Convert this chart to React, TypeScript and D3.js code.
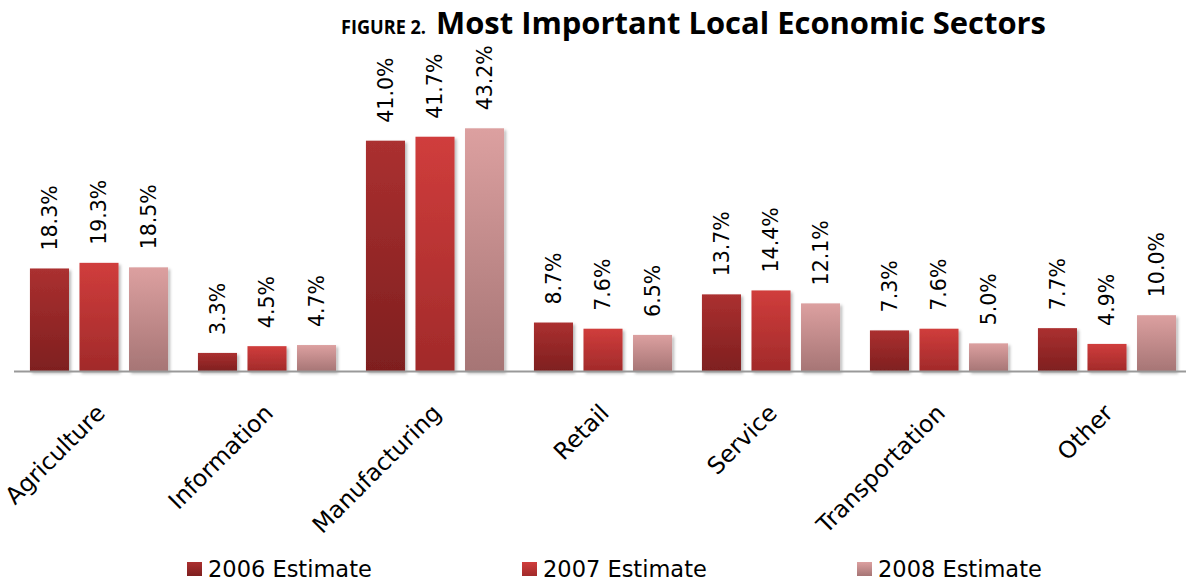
import { useRef, useEffect } from 'react';
import * as d3 from 'd3';

const categories = ['Agriculture', 'Information', 'Manufacturing', 'Retail', 'Service', 'Transportation', 'Other'];
const seriesNames = ['2006 Estimate', '2007 Estimate', '2008 Estimate'];
const values2006 = [18.3, 3.3, 41.0, 8.7, 13.7, 7.3, 7.7];
const values2007 = [19.3, 4.5, 41.7, 7.6, 14.4, 7.6, 4.9];
const values2008 = [18.5, 4.7, 43.2, 6.5, 12.1, 5.0, 10.0];
const seriesValues = [values2006, values2007, values2008];

// top / bottom colours of each series gradient
const gradTop = ['#ab3030', '#d03d3c', '#dca0a0'];
const gradBottom = ['#7e1f1f', '#a12a2a', '#a67575'];

const App = () => {
    const svgRef = useRef<SVGSVGElement | null>(null);

    useEffect(() => {
        const svgElement = svgRef.current;
        if (!svgElement) return;

        const width = 1186;
        const height = 582;
        const baseline = 371.5;

        const svg = d3.select(svgElement)
            .attr('width', width)
            .attr('height', height);

        svg.selectAll('*').remove();

        const defs = svg.append('defs');
        seriesNames.forEach((_, i) => {
            const g = defs.append('linearGradient')
                .attr('id', `grad${i}`)
                .attr('x1', 0).attr('y1', 0)
                .attr('x2', 0).attr('y2', 1);
            g.append('stop').attr('offset', '0%').attr('stop-color', gradTop[i]);
            g.append('stop').attr('offset', '100%').attr('stop-color', gradBottom[i]);
        });
        const shadow = defs.append('filter')
            .attr('id', 'shadow')
            .attr('x', '-20%').attr('y', '-10%')
            .attr('width', '150%').attr('height', '130%');
        shadow.append('feDropShadow')
            .attr('dx', 2).attr('dy', 2)
            .attr('stdDeviation', 1.8)
            .attr('flood-color', '#000')
            .attr('flood-opacity', 0.28);

        const x0 = d3.scaleBand<string>()
            .domain(categories)
            .range([15, 1191])
            .paddingInner(0.178)
            .paddingOuter(0.089);

        const x1 = d3.scaleBand<string>()
            .domain(seriesNames)
            .range([0, x0.bandwidth()])
            .paddingInner(0.212);

        const y = d3.scaleLinear()
            .domain([0, 50])
            .range([baseline, baseline - 281.5]);

        // title
        const title = svg.append('text')
            .attr('y', 34)
            .style('font-family', '"Open Sans", "Liberation Sans", sans-serif')
            .style('font-weight', 'bold')
            .style('fill', '#000');
        title.append('tspan')
            .attr('x', 341)
            .attr('textLength', 85)
            .attr('lengthAdjust', 'spacingAndGlyphs')
            .style('font-size', '20px')
            .text('FIGURE 2.');
        title.append('tspan')
            .attr('x', 436)
            .attr('textLength', 610)
            .attr('lengthAdjust', 'spacingAndGlyphs')
            .style('font-size', '30.5px')
            .text('Most Important Local Economic Sectors');

        // bars
        const groups = svg.append('g')
            .selectAll('g')
            .data(categories)
            .join('g')
            .attr('transform', d => `translate(${x0(d)},0)`);

        groups.selectAll('rect')
            .data((_, ci) => seriesNames.map((s, si) => ({ s, si, v: seriesValues[si][ci] })))
            .join('rect')
            .attr('x', d => x1(d.s)!)
            .attr('y', d => y(d.v))
            .attr('width', x1.bandwidth())
            .attr('height', d => baseline - y(d.v))
            .attr('fill', d => `url(#grad${d.si})`)
            .attr('filter', 'url(#shadow)');

        // value labels
        groups.selectAll('text')
            .data((_, ci) => seriesNames.map((s, si) => ({ s, si, v: seriesValues[si][ci] })))
            .join('text')
            .attr('transform', d => `translate(${x1(d.s)! + x1.bandwidth() / 2},${y(d.v) - 18}) rotate(-90)`)
            .attr('dy', '0.36em')
            .style('font-family', '"DejaVu Sans", Verdana, sans-serif')
            .style('font-size', '20.5px')
            .style('fill', '#000')
            .text(d => `${d.v.toFixed(1)}%`);

        // baseline
        svg.append('line')
            .attr('x1', 14)
            .attr('x2', 1186)
            .attr('y1', baseline)
            .attr('y2', baseline)
            .attr('stroke', '#999')
            .attr('stroke-width', 2);

        // category labels
        svg.append('g')
            .selectAll('text')
            .data(categories)
            .join('text')
            .attr('transform', d => `translate(${x0(d)! + x0.bandwidth() / 2 - 5},${402}) rotate(-45)`)
            .attr('dy', '0.75em')
            .attr('text-anchor', 'end')
            .style('font-family', '"DejaVu Sans", Verdana, sans-serif')
            .style('font-size', '23.5px')
            .style('fill', '#000')
            .text(d => d);

        // legend
        const legendX = d3.scalePoint<string>()
            .domain(seriesNames)
            .range([187, 857]);

        const legend = svg.append('g')
            .selectAll('g')
            .data(seriesNames)
            .join('g')
            .attr('transform', d => `translate(${legendX(d)},0)`);

        legend.append('rect')
            .attr('x', 0)
            .attr('y', 562)
            .attr('width', 15)
            .attr('height', 14)
            .attr('fill', (_, i) => `url(#grad${i})`);

        legend.append('text')
            .attr('x', 21)
            .attr('y', 576.5)
            .style('font-family', '"DejaVu Sans", Verdana, sans-serif')
            .style('font-size', '22.5px')
            .style('fill', '#000')
            .text(d => d);
    }, []);

    return (
        <svg ref={svgRef} style={{ position: 'absolute', left: 0, top: 0, display: 'block', background: '#fff' }}></svg>
    );
};

export default App;
